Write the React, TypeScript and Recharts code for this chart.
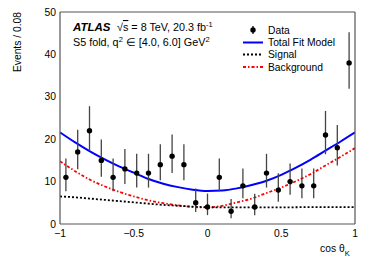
import React from 'react';
import { ComposedChart, Line, Scatter, ErrorBar, XAxis, YAxis } from 'recharts';

const FONT = '"Liberation Sans", Arial, Helvetica, sans-serif';

// Data histogram (bin centres, counts, Poisson error bars)
const binCenters = [-0.96, -0.88, -0.8, -0.72, -0.64, -0.56, -0.48, -0.4, -0.32, -0.24, -0.16, -0.08, 0, 0.08, 0.16, 0.24, 0.32, 0.4, 0.48, 0.56, 0.64, 0.72, 0.8, 0.88, 0.96];
const counts = [11, 17, 22, 15, 11, 13, 12, 12, 14, 16, 14, 5, 4, 11, 3, 9, 4, 12, 8, 10, 9, 9, 21, 18, 38];
const errLow = [3.26, 4.08, 4.66, 3.83, 3.26, 3.55, 3.41, 3.41, 3.69, 3.95, 3.69, 2.16, 1.91, 3.26, 1.63, 2.94, 1.91, 3.41, 2.77, 3.11, 2.94, 2.94, 4.55, 4.2, 6.1];
const errHigh = [4.42, 5.2, 5.78, 4.95, 4.42, 4.7, 4.56, 4.56, 4.83, 5.08, 4.83, 3.38, 3.16, 4.42, 2.92, 4.11, 3.16, 4.56, 3.94, 4.26, 4.11, 4.11, 5.67, 5.32, 7.2];

// Fitted curves sampled along cos theta_K
const curveX = [-1, -0.9, -0.8, -0.7, -0.6, -0.5, -0.4, -0.3, -0.2, -0.1, 0, 0.1, 0.2, 0.3, 0.4, 0.5, 0.6, 0.7, 0.8, 0.9, 1];
const totalFit = [21.6, 19.3, 17.2, 15.3, 13.6, 12.1, 10.6, 9.5, 8.7, 8.1, 7.8, 7.9, 8.4, 9.2, 10.2, 11.6, 13.3, 15.2, 17.3, 19.4, 21.6];
const signal = [6.5, 6.3, 6.0, 5.7, 5.4, 5.1, 4.8, 4.5, 4.3, 4.1, 3.95, 3.9, 3.9, 3.9, 3.9, 3.9, 3.95, 4.0, 4.0, 4.0, 4.0];
const background = [14.8, 12.5, 10.5, 8.9, 7.6, 6.5, 5.6, 4.9, 4.4, 4.0, 3.9, 4.3, 5.1, 6.0, 7.3, 8.6, 10.1, 11.8, 13.8, 15.8, 17.9];

const xTicks = [-1, -0.5, 0, 0.5, 1];
const xInnerTicks = [-0.5, 0, 0.5];
const yTicks = [0, 10, 20, 30, 40, 50];
const yMajorInner = [10, 20, 30, 40];
const yMinorInner = [5, 15, 25, 35, 45];

const points = binCenters.map((x, i) => ({ x, y: counts[i], err: [errLow[i], errHigh[i]] }));
const mk = (vals: number[]) => curveX.map((x, i) => ({ x, y: vals[i] }));
const totalData = mk(totalFit);
const signalData = mk(signal);
const bkgData = mk(background);

const FRAME = '#555';

export default function App() {
  return (
    <div style={{ position: 'absolute', left: 0, top: 0, width: 374, height: 268, background: '#fff', fontFamily: FONT }}>
      <ComposedChart width={374} height={268} margin={{ top: 12, right: 19, bottom: 14, left: 20 }}>
        <XAxis
          xAxisId={0}
          dataKey="x"
          type="number"
          domain={[-1, 1]}
          ticks={xTicks}
          allowDataOverflow
          height={30}
          tickLine={false}
          tickSize={0}
          tickMargin={6}
          axisLine={{ stroke: FRAME, strokeWidth: 1.2 }}
          tick={{ fill: '#000', fontSize: 10.3, fontFamily: FONT }}
          tickFormatter={(v: number) => (v < 0 ? '\u2212' + Math.abs(v) : String(v))}
        />
        <XAxis xAxisId="bm" type="number" domain={[-1, 1]} ticks={xInnerTicks} allowDataOverflow mirror tick={false} axisLine={false} tickSize={8} tickLine={{ stroke: FRAME }} />
        <XAxis xAxisId="tm" orientation="top" type="number" domain={[-1, 1]} ticks={xInnerTicks} allowDataOverflow mirror tick={false} axisLine={{ stroke: FRAME, strokeWidth: 1.2 }} tickSize={8} tickLine={{ stroke: FRAME }} />
        <YAxis
          yAxisId={0}
          dataKey="y"
          type="number"
          domain={[0, 50]}
          ticks={yTicks}
          allowDataOverflow
          width={40}
          tickLine={false}
          tickSize={0}
          tickMargin={4}
          axisLine={{ stroke: FRAME, strokeWidth: 1.2 }}
          tick={{ fill: '#000', fontSize: 10.3, fontFamily: FONT }}
        />
        <YAxis yAxisId="lmaj" type="number" domain={[0, 50]} ticks={yMajorInner} mirror tick={false} axisLine={false} tickSize={8} tickLine={{ stroke: FRAME }} />
        <YAxis yAxisId="lmin" type="number" domain={[0, 50]} ticks={yMinorInner} mirror tick={false} axisLine={false} tickSize={5} tickLine={{ stroke: FRAME }} />
        <YAxis yAxisId="rmaj" orientation="right" type="number" domain={[0, 50]} ticks={yMajorInner} mirror tick={false} axisLine={{ stroke: FRAME, strokeWidth: 1.2 }} tickSize={8} tickLine={{ stroke: FRAME }} />
        <YAxis yAxisId="rmin" orientation="right" type="number" domain={[0, 50]} ticks={yMinorInner} mirror tick={false} axisLine={false} tickSize={5} tickLine={{ stroke: FRAME }} />

        <Line data={bkgData} dataKey="y" type="monotone" stroke="#ff0000" strokeWidth={1.8} strokeDasharray="3 2 1.5 2" dot={false} isAnimationActive={false} />
        <Line data={signalData} dataKey="y" type="monotone" stroke="#000" strokeWidth={1.8} strokeDasharray="2 2" dot={false} isAnimationActive={false} />
        <Line data={totalData} dataKey="y" type="monotone" stroke="#0000ff" strokeWidth={2} dot={false} isAnimationActive={false} />
        <Scatter
          data={points}
          dataKey="y"
          isAnimationActive={false}
          shape={(p: any) => <circle cx={p.cx} cy={p.cy} r={2.7} fill="#000" />}
        >
          <ErrorBar dataKey="err" direction="y" width={0} stroke="#444" strokeWidth={1.3} isAnimationActive={false} />
        </Scatter>
      </ComposedChart>

      <svg width={374} height={268} style={{ position: 'absolute', left: 0, top: 0, pointerEvents: 'none' }} fontFamily={FONT}>
        <text x={73} y={31} fontSize={11.5} fontWeight="bold" fontStyle="italic" fill="#000">ATLAS</text>
        <text x={117} y={31} fontSize={10.8} fill="#000">
          {'\u221A'}<tspan textDecoration="overline">s</tspan> = 8 TeV, 20.3 fb<tspan dy={-4} fontSize={7.5}>-1</tspan>
        </text>
        <text x={73} y={46} fontSize={10.8} fill="#000">
          S5 fold, q<tspan dy={-4} fontSize={7.5}>2</tspan><tspan dy={4}> {'\u2208'} [4.0, 6.0] GeV</tspan><tspan dy={-4} fontSize={7.5}>2</tspan>
        </text>

        <line x1={253} y1={26} x2={253} y2={34} stroke="#000" strokeWidth={1.2} />
        <circle cx={253} cy={30} r={2.7} fill="#000" />
        <text x={268} y={33.6} fontSize={10.3} fill="#000">Data</text>
        <line x1={243} y1={42.5} x2={263} y2={42.5} stroke="#0000ff" strokeWidth={2} />
        <text x={268} y={46.1} fontSize={10.3} fill="#000">Total Fit Model</text>
        <line x1={243} y1={54.5} x2={263} y2={54.5} stroke="#000" strokeWidth={1.8} strokeDasharray="2 2" />
        <text x={268} y={58.1} fontSize={10.3} fill="#000">Signal</text>
        <line x1={243} y1={67} x2={263} y2={67} stroke="#ff0000" strokeWidth={1.8} strokeDasharray="3 2 1.5 2" />
        <text x={268} y={70.6} fontSize={10.3} fill="#000">Background</text>

        <text transform="rotate(-90)" x={-12} y={21} textAnchor="end" fontSize={10.3} fill="#000">Events / 0.08</text>
        <text x={320} y={252} fontSize={10.3} fill="#000">cos {'\u03B8'}<tspan dy={3.5} fontSize={7.5}>K</tspan></text>
      </svg>
    </div>
  );
}
